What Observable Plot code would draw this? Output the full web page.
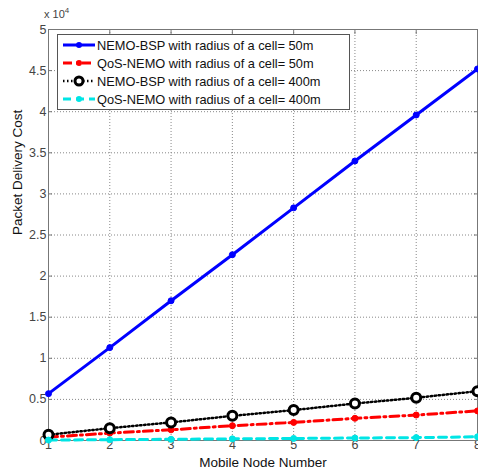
<!DOCTYPE html>
<html><head><meta charset="utf-8">
<script src="https://cdn.jsdelivr.net/npm/d3@7"></script>
<script src="https://cdn.jsdelivr.net/npm/@observablehq/plot@0.6"></script>
<style>
body{margin:0;background:#fff;font-family:"Liberation Sans",Arial,sans-serif;}
#wrap{position:relative;width:478px;height:474px;overflow:hidden;}
#legend{position:absolute;left:57px;top:34px;width:293px;height:76px;border:1px solid #555;background:#fff;font-size:12.8px;color:#111;box-sizing:border-box;}
#legend .row{position:absolute;left:0;height:18px;display:flex;align-items:center;}
#legend svg{margin-left:4px;margin-right:1px;}
#exp{position:absolute;left:44px;top:6px;font-size:11px;color:#444;}
</style></head>
<body><div id="wrap"></div>
<script>
const nodes = [1,2,3,4,5,6,7,8];
const seriesNames = [
  "NEMO-BSP with radius of a cell= 50m",
  "QoS-NEMO with radius of a cell= 50m",
  "NEMO-BSP with radius of a cell= 400m",
  "QoS-NEMO with radius of a cell= 400m"
];
const bsp50  = [0.57,1.13,1.70,2.26,2.83,3.40,3.96,4.52];
const qos50  = [0.04,0.09,0.13,0.18,0.22,0.27,0.31,0.36];
const bsp400 = [0.07,0.15,0.22,0.30,0.37,0.45,0.52,0.60];
const qos400 = [0.005,0.01,0.015,0.02,0.025,0.03,0.035,0.045];
const yTicks = [0,0.5,1,1.5,2,2.5,3,3.5,4,4.5,5];
const yTickLabels = ["0","0.5","1","1.5","2","2.5","3","3.5","4","4.5","5"];

const colors = ["#0000ff","#ff0000","#000000","#00e5e5"];
const dashes = [null,"9,4,2,4","1.5,2.5","8,5"];
const widths = [3,3,2.5,3];
const allSeries = [bsp50,qos50,bsp400,qos400];
const data = allSeries.flatMap((vals,i)=>vals.map((v,j)=>({x:nodes[j],y:v,s:i})));

const lineMarks = allSeries.map((vals,i)=>Plot.line(data.filter(d=>d.s===i),{x:"x",y:"y",stroke:colors[i],strokeWidth:widths[i],strokeDasharray:dashes[i]}));
const dotMarks = allSeries.map((vals,i)=> i===2
  ? Plot.dot(data.filter(d=>d.s===i),{x:"x",y:"y",r:4.5,stroke:"#000",strokeWidth:3,fill:"#fff"})
  : Plot.dot(data.filter(d=>d.s===i),{x:"x",y:"y",r:3,fill:colors[i],stroke:colors[i],strokeWidth:1}));

const chart = Plot.plot({
  width:478,height:474,
  marginLeft:48,marginRight:1,marginTop:29,marginBottom:34,
  style:{fontFamily:"Liberation Sans, Arial, sans-serif",fontSize:"12px",color:"#444",background:"#fff"},
  x:{domain:[1,8],ticks:nodes,tickFormat:d=>String(d),label:null},
  y:{domain:[0,5],ticks:yTicks,tickFormat:(d,i)=>yTickLabels[i],label:null},
  marks:[
    Plot.gridX(nodes,{stroke:"#888",strokeOpacity:1,strokeDasharray:"1,2"}),
    Plot.gridY(yTicks,{stroke:"#888",strokeOpacity:1,strokeDasharray:"1,2"}),
    Plot.frame({stroke:"#777",strokeWidth:1}),
    Plot.axisX({ticks:nodes,tickSize:-4,tickPadding:4,tickFormat:d=>String(d),stroke:"#777",fill:"#444",fontSize:12.5}),
    Plot.axisX({anchor:"top",ticks:nodes,tickSize:-4,tickFormat:()=>"",stroke:"#777"}),
    Plot.axisY({ticks:yTicks,tickSize:-4,tickPadding:6,tickFormat:(d,i)=>yTickLabels[i],stroke:"#777",fill:"#444",fontSize:12.5}),
    Plot.axisY({anchor:"right",ticks:yTicks,tickSize:-4,tickFormat:()=>"",stroke:"#777"}),
    ...lineMarks,
    ...dotMarks,
    Plot.text(["Mobile Node Number"],{frameAnchor:"bottom",dy:26,fontSize:13.5,fill:"#111"}),
    Plot.text(["Packet Delivery Cost"],{frameAnchor:"left",dx:-31,rotate:-90,fontSize:13.5,fill:"#111"})
  ]
});
const wrap = document.getElementById("wrap");
wrap.appendChild(chart);

const exp = document.createElement("div");
exp.id="exp"; exp.innerHTML="x 10<sup style='font-size:8px'>4</sup>";
wrap.appendChild(exp);

const leg = document.createElement("div");
leg.id="legend";
seriesNames.forEach((name,i)=>{
  const row=document.createElement("div");
  row.className="row"; row.style.top=(1+i*18)+"px";
  const dash = dashes[i]?`stroke-dasharray="${dashes[i]}"`:"";
  const marker = i===2
    ? `<circle cx="17" cy="9" r="4" fill="#fff" stroke="#000" stroke-width="3"/>`
    : `<circle cx="17" cy="9" r="3" fill="${colors[i]}"/>`;
  row.innerHTML=`<svg width="34" height="18"><line x1="1" x2="33" y1="9" y2="9" stroke="${colors[i]}" stroke-width="${widths[i]}" ${dash}/>${marker}</svg><span>${name}</span>`;
  leg.appendChild(row);
});
wrap.appendChild(leg);
</script></body></html>
